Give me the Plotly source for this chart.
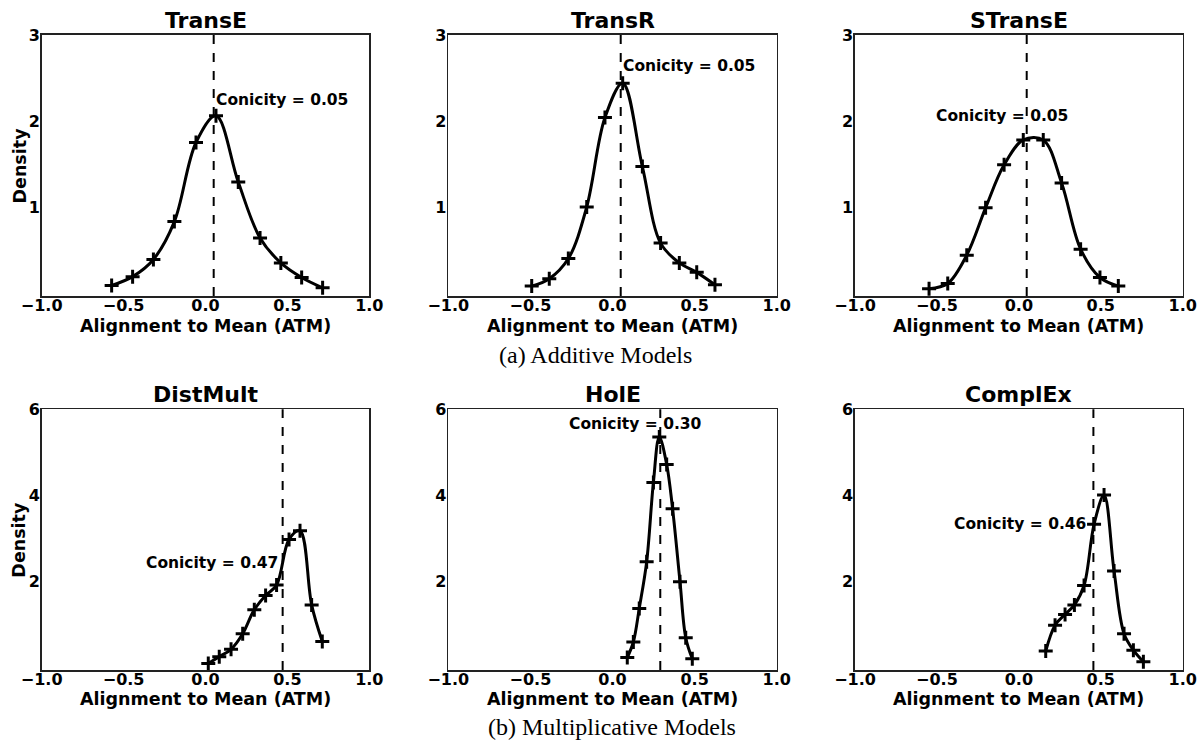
import plotly.graph_objects as go

FIG_W, FIG_H = 1199, 740

models = ["TransE", "TransR", "STransE", "DistMult", "HolE", "ComplEx"]

transe_x = [-0.573, -0.445, -0.318, -0.19, -0.058, 0.064, 0.20, 0.333, 0.46, 0.587, 0.715]
transe_y = [0.087, 0.19, 0.39, 0.83, 1.75, 2.06, 1.29, 0.64, 0.35, 0.18, 0.06]

transr_x = [-0.492, -0.385, -0.269, -0.157, -0.046, 0.062, 0.182, 0.293, 0.407, 0.513, 0.624]
transr_y = [0.08, 0.165, 0.40, 1.0, 2.04, 2.44, 1.47, 0.58, 0.35, 0.24, 0.095]

stranse_x = [-0.548, -0.434, -0.318, -0.203, -0.09, 0.027, 0.149, 0.261, 0.377, 0.495, 0.607]
stranse_y = [0.05, 0.11, 0.44, 0.99, 1.49, 1.78, 1.78, 1.28, 0.51, 0.18, 0.08]

distmult_x = [0.017, 0.084, 0.156, 0.227, 0.298, 0.367, 0.434, 0.51, 0.577, 0.648, 0.713]
distmult_y = [0.10, 0.26, 0.43, 0.79, 1.35, 1.68, 1.92, 2.98, 3.18, 1.46, 0.61]

hole_x = [0.090, 0.127, 0.163, 0.208, 0.249, 0.285, 0.33, 0.366, 0.411, 0.446, 0.486]
hole_y = [0.24, 0.60, 1.38, 2.46, 4.30, 5.36, 4.72, 3.69, 2.0, 0.70, 0.21]

complex_x = [0.164, 0.221, 0.282, 0.339, 0.398, 0.459, 0.52, 0.581, 0.642, 0.699, 0.76]
complex_y = [0.39, 0.99, 1.24, 1.46, 1.91, 3.33, 4.01, 2.25, 0.79, 0.41, 0.14]

conicity_labels = ["0.05", "0.05", "0.05", "0.47", "0.30", "0.46"]
conicity_line_x = [0.05, 0.05, 0.048, 0.471, 0.291, 0.455]

x_tickvals = [-1.0, -0.5, 0.0, 0.5, 1.0]
x_ticktext = ["\u22121.0", "\u22120.5", "0.0", "0.5", "1.0"]
top_y_ticks = [1, 2, 3]
bottom_y_ticks = [2, 4, 6]

x_title = "Alignment to Mean (ATM)"
y_title = "Density"
captions = ["(a) Additive Models", "(b) Multiplicative Models"]

series = [
    (transe_x, transe_y),
    (transr_x, transr_y),
    (stranse_x, stranse_y),
    (distmult_x, distmult_y),
    (hole_x, hole_y),
    (complex_x, complex_y),
]

# annotation placement (x, y, xanchor) in data coords
ann_pos = [
    (0.05, 2.24, "left"),
    (0.05, 2.64, "left"),
    (-0.52, 2.06, "left"),
    (0.455, 2.44, "right"),
    (-0.275, 5.65, "left"),
    (0.42, 3.33, "right"),
]

# panel edges in pixels
col_px = [(41.7, 369.3), (448.3, 776.7), (855.0, 1182.7)]
row_px = [(35.0, 296.0), (409.3, 670.0)]
caption_px = [(595, 355), (612, 727)]
xtitle_y_px = [326, 699]
ytitle_px_x = 19


def px_x(v):
    return v / FIG_W


def px_y(v):
    return 1 - v / FIG_H


BOLD = "DejaVu Sans"
fig = go.Figure()
layout = dict(
    width=FIG_W, height=FIG_H,
    margin=dict(l=0, r=0, t=0, b=0, autoexpand=False),
    paper_bgcolor="white", plot_bgcolor="white",
    showlegend=False,
    font=dict(family=BOLD, color="black"),
)
annotations = []
shapes = []

for i, name in enumerate(models):
    r, c = divmod(i, 3)
    xs = "" if i == 0 else str(i + 1)
    xa, ya = "xaxis" + xs, "yaxis" + xs
    xref, yref = "x" + xs, "y" + xs
    x0, x1 = col_px[c]
    ytop, ybot = row_px[r]
    xd = [px_x(x0), px_x(x1)]
    yd = [px_y(ybot), px_y(ytop)]
    px, py = series[i]
    fig.add_trace(go.Scatter(
        x=px, y=py, xaxis=xref, yaxis=yref, mode="lines+markers",
        line=dict(color="black", width=3, shape="spline", smoothing=1.0),
        marker=dict(symbol="cross-thin", size=10, line=dict(color="black", width=3)),
        hoverinfo="skip",
    ))
    yticks = top_y_ticks if r == 0 else bottom_y_ticks
    yr = [-0.035, 3] if r == 0 else [-0.05, 6]
    layout[xa] = dict(
        domain=xd, range=[-1, 1], anchor=yref, automargin=False,
        tickvals=x_tickvals, ticktext=["<b>%s</b>" % t for t in x_ticktext],
        tickfont=dict(family=BOLD, size=16, color="black"),
        ticklabelstandoff=-6,
        showgrid=False, zeroline=False, ticks="",
        showline=True, linecolor="#222", linewidth=1.6, mirror=True,
        fixedrange=True,
    )
    layout[ya] = dict(
        domain=yd, range=yr, anchor=xref, automargin=False,
        tickvals=yticks, ticktext=["<b>%d</b>" % v for v in yticks],
        tickfont=dict(family=BOLD, size=16, color="black"),
        ticklabelstandoff=-3,
        showgrid=False, zeroline=False, ticks="",
        showline=True, linecolor="#222", linewidth=1.6, mirror=True,
        fixedrange=True,
    )
    annotations.append(dict(
        text="<b>%s</b>" % name, x=(xd[0] + xd[1]) / 2, y=yd[1],
        xref="paper", yref="paper", xanchor="center", yanchor="bottom",
        showarrow=False, font=dict(family=BOLD, size=22, color="black"),
    ))
    annotations.append(dict(
        text="<b>%s</b>" % x_title, x=(xd[0] + xd[1]) / 2, y=px_y(xtitle_y_px[r]),
        xref="paper", yref="paper", xanchor="center", yanchor="middle",
        showarrow=False, font=dict(family=BOLD, size=17.5, color="black"),
    ))
    if c == 0:
        annotations.append(dict(
            text="<b>%s</b>" % y_title, x=px_x(ytitle_px_x), y=(yd[0] + yd[1]) / 2,
            xref="paper", yref="paper", xanchor="center", yanchor="middle",
            textangle=-90, showarrow=False, font=dict(family=BOLD, size=17.5, color="black"),
        ))
    ax_, ay_, anc = ann_pos[i]
    annotations.append(dict(
        text="<b>Conicity = %s</b>" % conicity_labels[i], x=ax_, y=ay_,
        xref=xref, yref=yref, xanchor=anc, yanchor="middle",
        showarrow=False, font=dict(family=BOLD, size=15.5, color="black"),
    ))
    shapes.append(dict(
        type="line", xref=xref, yref=yref + " domain",
        x0=conicity_line_x[i], x1=conicity_line_x[i], y0=0, y1=1,
        line=dict(color="black", width=2, dash="dash"),
    ))

for cap, (cx, cy) in zip(captions, caption_px):
    annotations.append(dict(text=cap, x=px_x(cx), y=px_y(cy), xref="paper", yref="paper",
                            xanchor="center", yanchor="middle", showarrow=False,
                            font=dict(family="Liberation Serif", size=24, color="black")))

layout["annotations"] = annotations
layout["shapes"] = shapes
fig.update_layout(**layout)
fig.write_html(
    "out.html",
    config={"displayModeBar": False, "staticPlot": True},
    post_script="document.body.style.margin='0';document.body.style.overflow='hidden';",
)
